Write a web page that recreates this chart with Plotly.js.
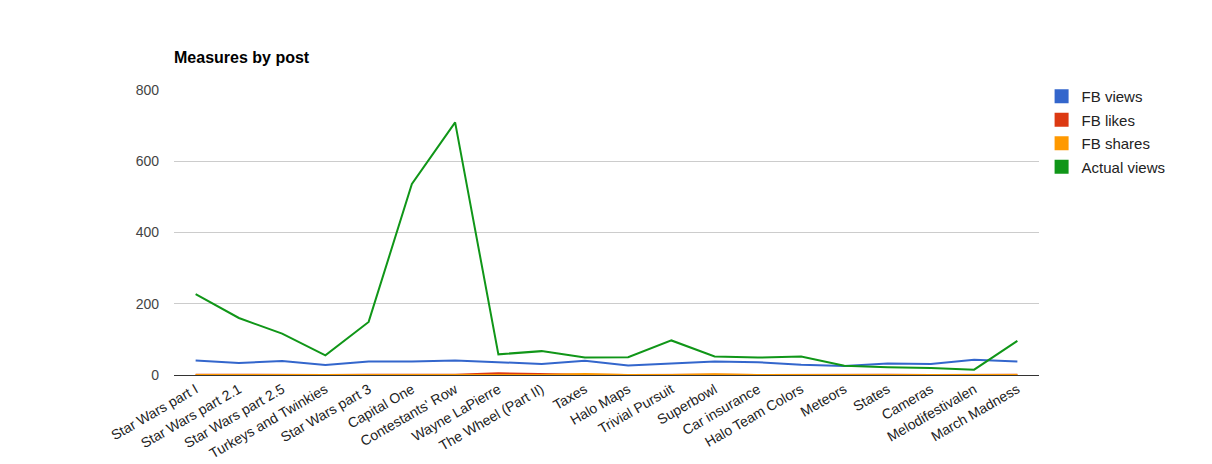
<!DOCTYPE html>
<html>
<head>
<meta charset="utf-8">
<script src="https://cdn.plot.ly/plotly-3.0.1.min.js"></script>
<style>html,body{margin:0;padding:0;background:#fff;}#chart{width:1212px;height:464px;}</style>
</head>
<body>
<div id="chart"></div>
<script>
const categories = ["Star Wars part I","Star Wars part 2.1","Star Wars part 2.5","Turkeys and Twinkies","Star Wars part 3","Capital One","Contestants' Row","Wayne LaPierre","The Wheel (Part II)","Taxes","Halo Maps","Trivial Pursuit","Superbowl","Car insurance","Halo Team Colors","Meteors","States","Cameras","Melodifestivalen","March Madness"];
const fbViews = [41,34,39,28,38,38,41,37,31,40,27,32,38,36,29,25,32,31,43,38];
const fbLikes = [1,0,0,0,1,0,1,5,2,1,0,1,1,0,1,0,1,0,1,1];
const fbShares = [0,0,0,0,0,0,0,0,0,3,0,0,2,0,0,0,0,0,0,0];
const actualViews = [227,160,116,55,149,536,709,58,67,49,50,97,52,49,52,26,22,20,15,96];
const seriesNames = ["FB views","FB likes","FB shares","Actual views"];
const seriesColors = ["#3366cc","#dc3912","#ff9900","#109618"];
const seriesData = [fbViews, fbLikes, fbShares, actualViews];

const traces = [];
seriesData.forEach((vals, i) => {
  traces.push({x: categories, y: vals, type: 'scatter', mode: 'lines', name: seriesNames[i],
    line: {color: seriesColors[i], width: 2}, showlegend: false, legendgroup: 'g' + i, hoverinfo: 'x+y+name'});
});
seriesData.forEach((vals, i) => {
  traces.push({x: [null], y: [null], type: 'scatter', mode: 'markers', name: seriesNames[i],
    marker: {color: seriesColors[i], symbol: 'square', size: 14, line: {width: 0}}, legendgroup: 'g' + i, showlegend: true});
});

const layout = {
  width: 1212, height: 464,
  margin: {l: 174, r: 173, t: 89.5, b: 88.5},
  paper_bgcolor: '#fff', plot_bgcolor: '#fff',
  font: {family: 'Liberation Sans, Arial, sans-serif', size: 14, color: '#222'},
  title: {text: '<b>Measures by post</b>', x: 0, xref: 'paper', xanchor: 'left', y: 1 - 57 / 464, yref: 'container', yanchor: 'middle',
    font: {size: 16, color: '#000', family: 'Liberation Sans, Arial, sans-serif'}},
  xaxis: {type: 'category', range: [-0.5, 19.5], tickangle: -30, showgrid: false, showline: true, linecolor: '#333', linewidth: 1,
    ticks: '', tickfont: {size: 14, color: '#222'}, zeroline: false, automargin: false},
  yaxis: {range: [0, 800], dtick: 200, gridcolor: '#cccccc', gridwidth: 1, zeroline: false, showline: false,
    ticks: '', tickfont: {size: 14, color: '#444'}, ticklabelstandoff: 14, automargin: false},
  legend: {x: 1.003, xanchor: 'left', y: 1.035, yanchor: 'top', font: {size: 15, color: '#222'},
    tracegroupgap: 1, itemwidth: 30, bgcolor: 'rgba(0,0,0,0)'},
  showlegend: true
};
Plotly.newPlot('chart', traces, layout, {displayModeBar: false, staticPlot: true});
</script>
</body>
</html>
